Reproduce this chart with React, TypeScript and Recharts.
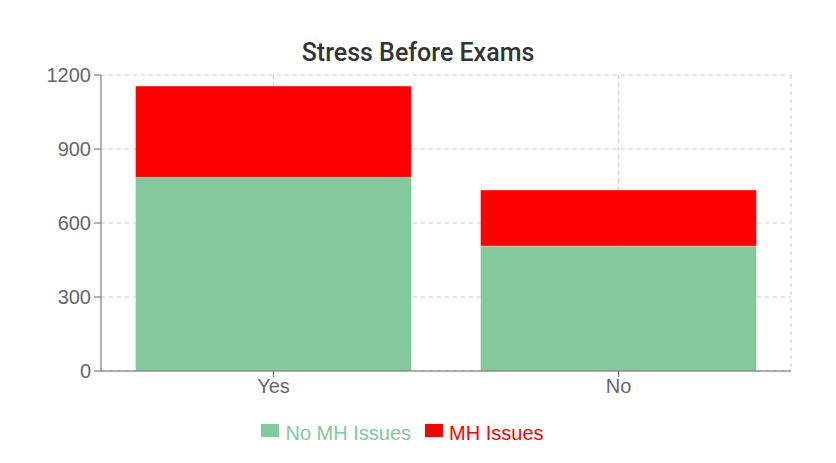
import React from "react";
import {
  BarChart, Bar, XAxis, YAxis, CartesianGrid, Legend
} from "recharts";

const CATEGORIES = ["Yes", "No"];
const NO_MH = [785, 506];
const MH = [370, 228];
const Y_TICKS = [0, 300, 600, 900, 1200];
const SERIES = [
  { key: "noMh", name: "No MH Issues", color: "#82c99b" },
  { key: "mh", name: "MH Issues", color: "#ff0000" },
];

const data = CATEGORIES.map((c, i) => ({ name: c, noMh: NO_MH[i], mh: MH[i] }));

const FONT = "Liberation Sans, Arial, sans-serif";
const tickStyle = { fill: "#666", fontSize: 20, fontFamily: FONT };

// vertical grid at each category centre plus the right edge of the plot
function verticalLines({ offset }: any) {
  const bw = offset.width / CATEGORIES.length;
  const pts = CATEGORIES.map((_, i) => offset.left + bw * (i + 0.5));
  return [...pts, offset.left + offset.width];
}

function LegendContent() {
  return (
    <div style={{ display: "flex", justifyContent: "center", alignItems: "center", fontFamily: FONT, fontSize: 20, paddingLeft: 14 }}>
      {SERIES.map((s, i) => (
        <div key={s.key} style={{ display: "flex", alignItems: "center", marginLeft: i ? 14 : 0, color: s.color }}>
          <span style={{ display: "inline-block", width: 18, height: 13, background: s.color, marginRight: 6, marginTop: -6 }} />
          {s.name}
        </div>
      ))}
    </div>
  );
}

export default function App() {
  return (
    <div style={{ position: "fixed", left: 0, top: 0, width: 836, height: 463, background: "#fff" }}>
      <div
        style={{
          position: "absolute", top: 38, left: 0, width: 836, textAlign: "center",
          fontFamily: "Roboto, sans-serif", fontSize: 25, fontWeight: 500, color: "#333", lineHeight: "30px",
        }}
      >
        Stress Before Exams
      </div>
      <BarChart
        width={836}
        height={463}
        data={data}
        margin={{ top: 75, right: 45, left: 0, bottom: 18 }}
        barCategoryGap="10%"
      >
        <CartesianGrid
          strokeDasharray="4 4"
          stroke="#ccc"
          verticalCoordinatesGenerator={verticalLines}
        />
        <XAxis
          dataKey="name"
          tick={tickStyle}
          stroke="#666"
          tickSize={6}
          height={51}
        />
        <YAxis
          width={101}
          domain={[0, 1200]}
          ticks={Y_TICKS}
          tick={tickStyle}
          stroke="#666"
          tickSize={7}
          tickMargin={3}
        />
        <Legend verticalAlign="bottom" content={<LegendContent />} />
        {SERIES.map((s) => (
          <Bar
            key={s.key}
            dataKey={s.key}
            name={s.name}
            stackId="a"
            fill={s.color}
            stroke="#fff"
            strokeOpacity={0.4}
            isAnimationActive={false}
          />
        ))}
      </BarChart>
    </div>
  );
}
